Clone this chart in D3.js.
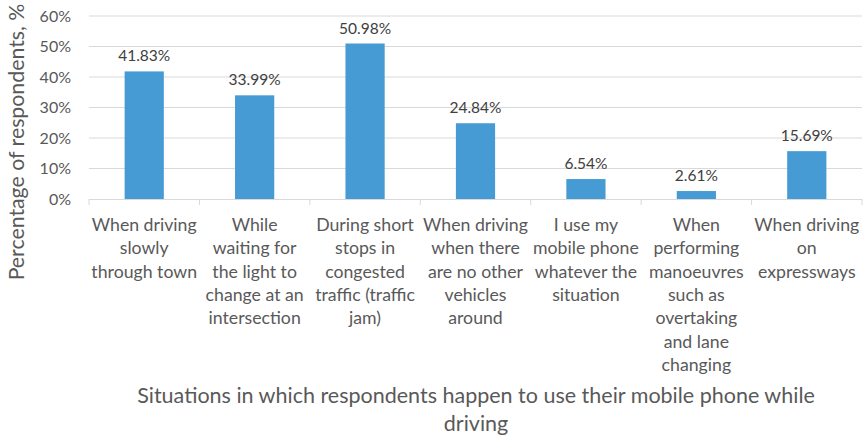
<!DOCTYPE html>
<html><head><meta charset="utf-8">
<script src="https://cdn.jsdelivr.net/npm/d3@7"></script>
<style>body{margin:0;background:#fff}svg{display:block;font-family:Lato,"Open Sans",sans-serif}</style>
</head><body><svg id="c" width="864" height="435"></svg>
<script>
const categories = [
  ["When driving","slowly","through town"],
  ["While","waiting for","the light to","change at an","intersection"],
  ["During short","stops in","congested","traffic (traffic","jam)"],
  ["When driving","when there","are no other","vehicles","around"],
  ["I use my","mobile phone","whatever the","situation"],
  ["When","performing","manoeuvres","such as","overtaking","and lane","changing"],
  ["When driving","on","expressways"]
];
const values = [41.83, 33.99, 50.98, 24.84, 6.54, 2.61, 15.69];
const yTicks = [0,10,20,30,40,50,60];
const xTitle = ["Situations in which respondents happen to use their mobile phone while","driving"];
const yTitle = "Percentage of respondents, %";

(function(){
const svg = d3.select("#c");
const pL = 89, pR = 862, pT = 16, pB = 199;
const x = d3.scaleBand().domain(d3.range(categories.length)).range([pL,pR]).paddingInner(0.645).paddingOuter(0.3225);
const y = d3.scaleLinear().domain([0,60]).range([pB,pT]);

svg.append("g").selectAll("line").data(yTicks.filter(d=>d>0)).join("line")
  .attr("x1",pL).attr("x2",pR).attr("y1",d=>y(d)).attr("y2",d=>y(d))
  .attr("stroke","#d9d9d9").attr("stroke-width",1);

svg.append("g").selectAll("text").data(yTicks).join("text")
  .attr("x",71).attr("y",d=>y(d)+5.5).attr("text-anchor","end")
  .attr("font-size",16).attr("fill","#595959").text(d=>d+"%");

svg.append("g").selectAll("rect").data(values).join("rect")
  .attr("x",(d,i)=>x(i)).attr("width",x.bandwidth())
  .attr("y",d=>y(d)).attr("height",d=>pB-y(d)).attr("fill","#469bd5");

const step = (pR-pL)/categories.length;
svg.append("line").attr("x1",pL).attr("x2",pR).attr("y1",pB+0.5).attr("y2",pB+0.5).attr("stroke","#d9d9d9");
svg.append("g").selectAll("line").data(d3.range(categories.length+1)).join("line")
  .attr("x1",i=>pL+i*step).attr("x2",i=>pL+i*step).attr("y1",pB).attr("y2",pB+6).attr("stroke","#d9d9d9");

svg.append("g").selectAll("text").data(values).join("text")
  .attr("x",(d,i)=>x(i)+x.bandwidth()/2).attr("y",d=>y(d)-10).attr("text-anchor","middle")
  .attr("font-size",15.5).attr("fill","#404040").text(d=>d.toFixed(2)+"%");

const cg = svg.append("g").selectAll("text").data(categories).join("text")
  .attr("text-anchor","middle").attr("font-size",17.7).attr("fill","#595959");
cg.each(function(lines,i){
  d3.select(this).selectAll("tspan").data(lines).join("tspan")
    .attr("x",x(i)+x.bandwidth()/2).attr("y",(l,j)=>231+j*23.3).text(l=>l);
});

svg.append("text").attr("text-anchor","middle").attr("font-size",21.5).attr("fill","#595959")
  .selectAll("tspan").data(xTitle).join("tspan").attr("x",476).attr("y",(d,j)=>403+j*28).text(d=>d);

svg.append("text").attr("transform","translate(24,142) rotate(-90)").attr("text-anchor","middle")
  .attr("font-size",21.3).attr("fill","#595959").text(yTitle);
})();
</script></body></html>
